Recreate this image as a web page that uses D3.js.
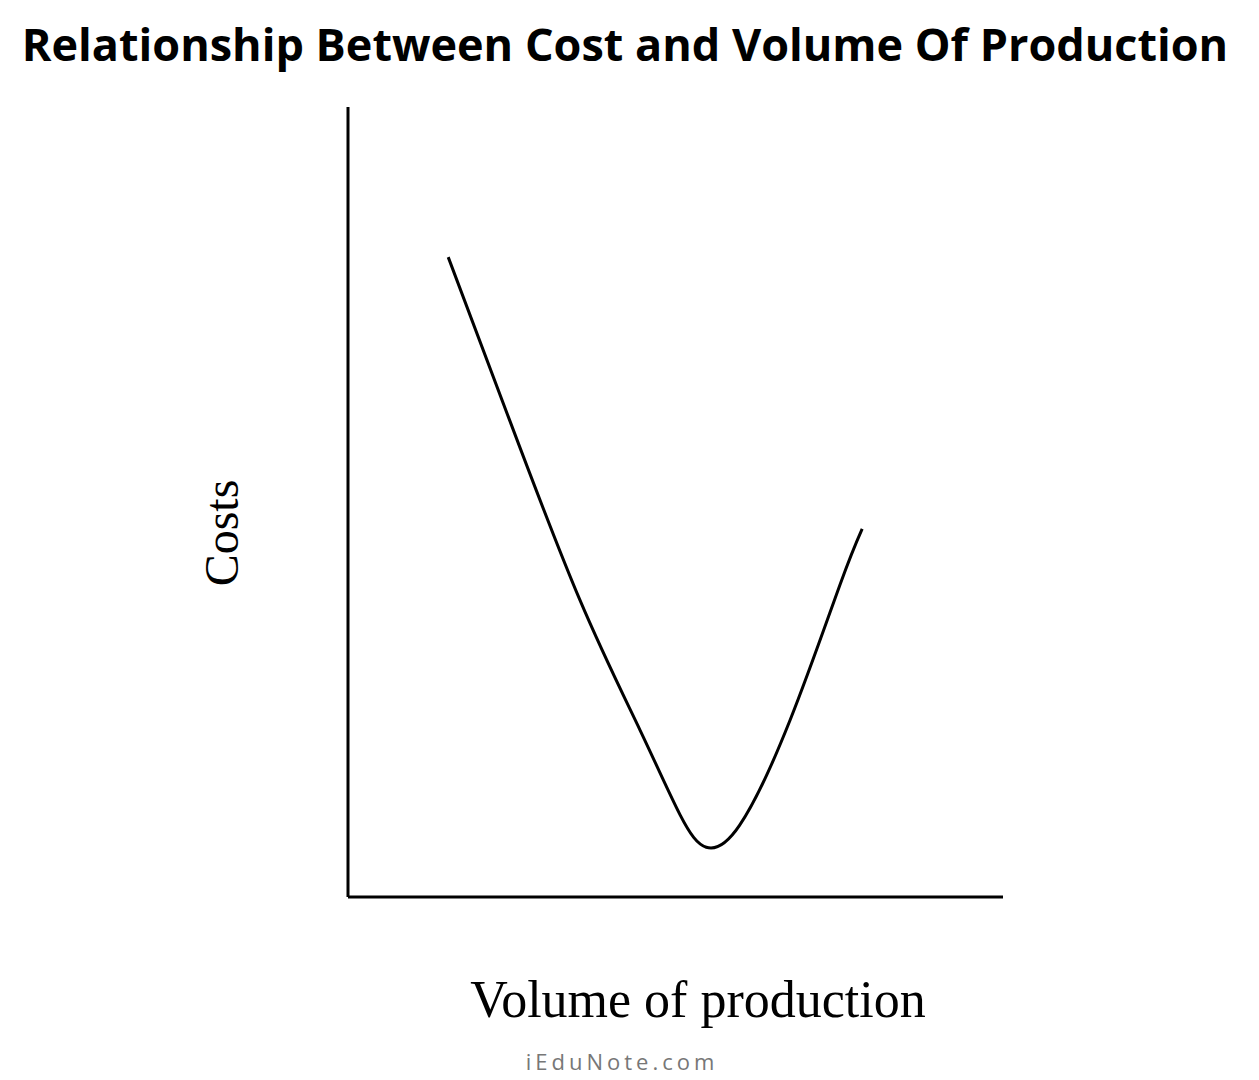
<!DOCTYPE html>
<html>
<head>
<meta charset="utf-8">
<script src="https://cdn.jsdelivr.net/npm/d3@7"></script>
<style>body{margin:0;background:#fff;}</style>
</head>
<body>
<div id="chart"></div>
<script>
// curve (volume, cost) in arbitrary units 0..10
const volume = [1.53, 2.47, 3.54, 4.46, 5.07, 5.47, 5.98, 6.75, 7.51, 7.85];
const cost   = [8.10, 6.03, 3.76, 2.11, 1.04, 0.63, 0.91, 2.24, 3.95, 4.66];

const W = 1259, H = 1080;
const svg = d3.select("#chart").append("svg").attr("width", W).attr("height", H);

const x = d3.scaleLinear().domain([0, 10]).range([348, 1003]);
const y = d3.scaleLinear().domain([0, 10]).range([897, 107]);

// title
svg.append("text")
    .attr("x", 625).attr("y", 61)
    .attr("text-anchor", "middle")
    .style("font-family", "'Open Sans', sans-serif")
    .style("font-weight", "bold")
    .style("font-size", "45px")
    .text("Relationship Between Cost and Volume Of Production");

// axes (plain lines, no ticks)
svg.append("line")
    .attr("x1", x(0)).attr("x2", x(0)).attr("y1", y(10)).attr("y2", y(0))
    .attr("stroke", "#000").attr("stroke-width", 3);
svg.append("line")
    .attr("x1", x(0)).attr("x2", x(10)).attr("y1", y(0)).attr("y2", y(0))
    .attr("stroke", "#000").attr("stroke-width", 3);

// cost curve
const line = d3.line()
    .x((d, i) => x(volume[i]))
    .y(d => y(d))
    .curve(d3.curveNatural);
svg.append("path")
    .attr("d", line(cost))
    .attr("fill", "none")
    .attr("stroke", "#000")
    .attr("stroke-width", 3);

// axis labels
svg.append("text")
    .attr("transform", "translate(238,533) rotate(-90)")
    .attr("text-anchor", "middle")
    .style("font-family", "'Liberation Serif', serif")
    .style("font-size", "48px")
    .text("Costs");

svg.append("text")
    .attr("x", 698).attr("y", 1017)
    .attr("text-anchor", "middle")
    .style("font-family", "'Liberation Serif', serif")
    .style("font-size", "52px")
    .text("Volume of production");

// watermark
svg.append("text")
    .attr("x", 622).attr("y", 1070)
    .attr("text-anchor", "middle")
    .style("font-family", "'Open Sans', sans-serif")
    .style("font-size", "22px")
    .style("letter-spacing", "4px")
    .style("fill", "#777")
    .text("iEduNote.com");
</script>
</body>
</html>
